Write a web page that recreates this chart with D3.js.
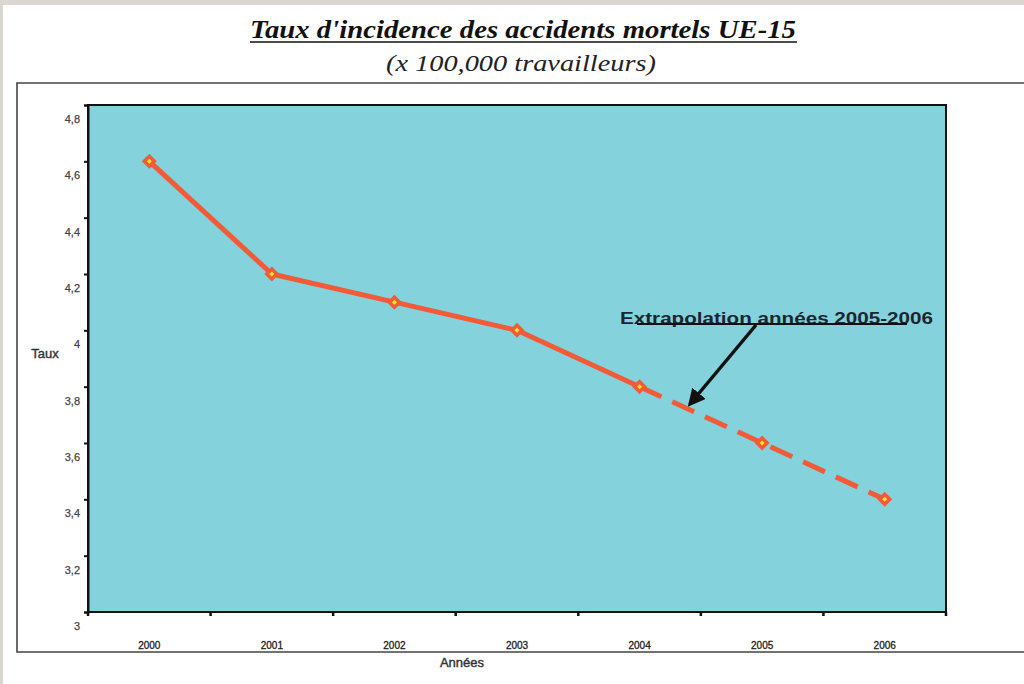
<!DOCTYPE html>
<html><head><meta charset="utf-8">
<script src="https://cdn.jsdelivr.net/npm/d3@7"></script>
<style>
html,body{margin:0;padding:0;background:#fff;}
svg{display:block;}
.serif{font-family:"Liberation Serif","Times New Roman",Times,serif;}
.sans{font-family:"Liberation Sans",Arial,Helvetica,sans-serif;}
</style></head>
<body>
<svg id="chart" width="1024" height="684"></svg>
<script>
const years = ["2000","2001","2002","2003","2004","2005","2006"];
const rates = [4.6, 4.2, 4.1, 4.0, 3.8, 3.6, 3.4];
const observedCount = 5; // 2000-2004 observed, 2005-2006 extrapolated
const yTicks = [3, 3.2, 3.4, 3.6, 3.8, 4, 4.2, 4.4, 4.6, 4.8];
const titleText = "Taux d'incidence des accidents mortels UE-15";
const subtitleText = "(x 100,000 travailleurs)";
const annotationText = "Extrapolation années 2005-2006";

const svg = d3.select("#chart");
const W = 1024, H = 684;

// outer gray page border
svg.append("rect").attr("x",0).attr("y",0).attr("width",W).attr("height",H).attr("fill","#dad6d1");
svg.append("rect").attr("x",3).attr("y",5).attr("width",W-3).attr("height",H-5).attr("fill","#ffffff");

// chart frame
svg.append("path").attr("d","M1030,83 H17 V652 H1030").attr("fill","none").attr("stroke","#444").attr("stroke-width",1.6);

// titles
svg.append("text").attr("class","serif").attr("x",523).attr("y",38).attr("text-anchor","middle")
  .attr("font-style","italic").attr("font-weight","bold")
  .attr("font-size",26).attr("fill","#111")
  .attr("textLength",546).attr("lengthAdjust","spacingAndGlyphs").text(titleText);
svg.append("line").attr("x1",250).attr("x2",797).attr("y1",42).attr("y2",42).attr("stroke","#111").attr("stroke-width",1.5);
svg.append("text").attr("class","serif").attr("x",521).attr("y",71).attr("text-anchor","middle")
  .attr("font-style","italic")
  .attr("font-size",24).attr("fill","#222").attr("textLength",270).attr("lengthAdjust","spacingAndGlyphs").text(subtitleText);

const m = {left:88, top:105, right:946, bottom:612};
const x = d3.scaleBand().domain(years).range([m.left, m.right]);
const y = d3.scaleLinear().domain([3, 4.8]).range([m.bottom, m.top]);

// plot area
svg.append("rect").attr("x",m.left).attr("y",m.top).attr("width",m.right-m.left).attr("height",m.bottom-m.top)
  .attr("fill","#84d2db").attr("stroke","#111").attr("stroke-width",2);

// Y axis
const yAxis = svg.append("g").attr("transform",`translate(${m.left},0)`)
  .call(d3.axisLeft(y).tickValues(yTicks).tickSize(4).tickFormat(d => String(d).replace(".",",")));
yAxis.select(".domain").attr("stroke","#111").attr("stroke-width",2);
yAxis.selectAll(".tick line").attr("stroke","#111").attr("stroke-width",2);
yAxis.selectAll(".tick text").attr("class","sans").attr("x",-8).attr("dy","1.6em")
  .attr("font-size",11).attr("fill","#444").attr("stroke","#444").attr("stroke-width",0.25);

// X axis: ticks between categories
const xAxis = svg.append("g").attr("transform",`translate(0,${m.bottom})`)
  .call(d3.axisBottom(x).tickSize(0).tickPadding(0));
xAxis.select(".domain").remove();
xAxis.selectAll(".tick text").attr("class","sans").attr("y",30)
  .attr("font-size",10).attr("fill","#222").attr("stroke","#222").attr("stroke-width",0.3);
const bounds = years.map(d => x(d) + x.bandwidth());
svg.append("g").selectAll("line").data(bounds).join("line")
  .attr("x1",d=>d).attr("x2",d=>d).attr("y1",m.bottom).attr("y2",m.bottom+4)
  .attr("stroke","#111").attr("stroke-width",2.5);
svg.append("line").attr("x1",m.left).attr("x2",m.left).attr("y1",m.bottom).attr("y2",m.bottom+4).attr("stroke","#111").attr("stroke-width",2.5);

// axis titles
svg.append("text").attr("class","sans").attr("x",45).attr("y",358).attr("text-anchor","middle")
  .attr("font-size",13).attr("fill","#333").attr("stroke","#333").attr("stroke-width",0.4).text("Taux");
svg.append("text").attr("class","sans").attr("x",462).attr("y",667).attr("text-anchor","middle")
  .attr("font-size",13).attr("fill","#333").attr("stroke","#333").attr("stroke-width",0.4).text("Années");

// data line
const pts = years.map((d,i) => ({year:d, v:rates[i]}));
const line = d3.line().x(d => x(d.year) + x.bandwidth()/2).y(d => y(d.v));
const red = "#f25a38";
svg.append("path").datum(pts.slice(0, observedCount)).attr("d",line)
  .attr("fill","none").attr("stroke",red).attr("stroke-width",5).attr("stroke-linejoin","round");
svg.append("path").datum(pts.slice(observedCount-1)).attr("d",line)
  .attr("fill","none").attr("stroke",red).attr("stroke-width",5).attr("stroke-dasharray","24,12");

// markers (rotated squares)
const marker = d3.symbol().type(d3.symbolSquare).size(50);
svg.append("g").selectAll("path").data(pts).join("path")
  .attr("transform", d => `translate(${x(d.year)+x.bandwidth()/2},${y(d.v)}) rotate(45)`)
  .attr("d", marker).attr("fill","#f6e61e").attr("stroke",red).attr("stroke-width",3.5);

// annotation
svg.append("defs").append("marker").attr("id","arrow").attr("viewBox","0 0 10 10").attr("refX",8).attr("refY",5)
  .attr("markerWidth",5).attr("markerHeight",5).attr("orient","auto")
  .append("path").attr("d","M0,0 L10,5 L0,10 z").attr("fill","#111");
svg.append("text").attr("class","sans").attr("x",620).attr("y",324)
  .attr("font-size",16).attr("font-weight","bold")
  .attr("fill","#1a2633").attr("textLength",313).attr("lengthAdjust","spacingAndGlyphs").text(annotationText);
svg.append("line").attr("x1",637).attr("x2",907).attr("y1",324).attr("y2",324).attr("stroke","#111").attr("stroke-width",2);
svg.append("line").attr("x1",756).attr("y1",325).attr("x2",690).attr("y2",404)
  .attr("stroke","#111").attr("stroke-width",3.5).attr("marker-end","url(#arrow)");
</script>
</body></html>
